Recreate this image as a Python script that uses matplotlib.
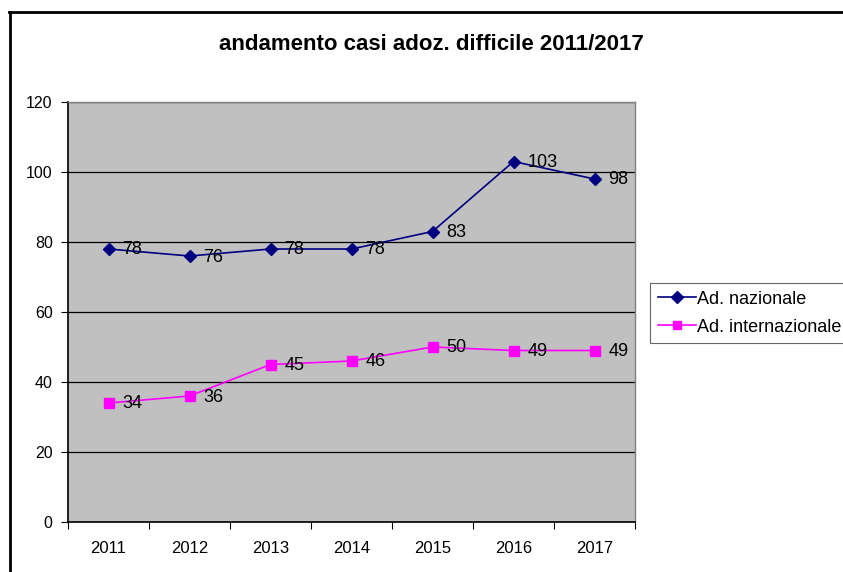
import matplotlib
matplotlib.use("Agg")
import matplotlib.pyplot as plt
from matplotlib.lines import Line2D

plt.rcParams['font.family'] = ['Liberation Sans', 'DejaVu Sans']

years = ["2011", "2012", "2013", "2014", "2015", "2016", "2017"]
nazionale = [78, 76, 78, 78, 83, 103, 98]
internazionale = [34, 36, 45, 46, 50, 49, 49]
series_names = ["Ad. nazionale", "Ad. internazionale"]
yticks = [0, 20, 40, 60, 80, 100, 120]

W, H = 843, 572
fig = plt.figure(figsize=(W / 100, H / 100), dpi=100)
fig.patch.set_facecolor('white')

ax = fig.add_axes([68 / W, 1 - 522 / H, (635 - 68) / W, (522 - 102) / H])
ax.set_facecolor('#C0C0C0')

x = list(range(len(years)))
ax.plot(x, nazionale, color='#000080', lw=1.2, marker='D', ms=6.5,
        mfc='#000080', mec='#000080', label=series_names[0], zorder=3)
ax.plot(x, internazionale, color='#FF00FF', lw=1.2, marker='s', ms=6.5,
        mfc='#FF00FF', mec='#FF00FF', label=series_names[1], zorder=3)

for xi, v in zip(x, nazionale):
    ax.annotate(str(v), (xi, v), xytext=(14, -1), textcoords='offset pixels',
                ha='left', va='center', fontsize=13, color='black', zorder=4)
for xi, v in zip(x, internazionale):
    ax.annotate(str(v), (xi, v), xytext=(14, -1), textcoords='offset pixels',
                ha='left', va='center', fontsize=13, color='black', zorder=4)

ax.set_xlim(-0.5, len(years) - 0.5)
ax.set_ylim(0, 120)
ax.set_yticks(yticks)
ax.set_yticklabels([str(t) for t in yticks], fontsize=11.5)
ax.yaxis.grid(True, color='black', lw=0.9)
ax.set_axisbelow(True)

ax.set_xticks([i + 0.5 for i in range(-1, len(years))])
ax.set_xticklabels([])
ax.set_xticks(x, minor=True)
ax.set_xticklabels(years, minor=True, fontsize=12)
ax.tick_params(axis='x', which='minor', length=0, pad=14)
ax.tick_params(axis='x', which='major', length=5, direction='out', color='black')
ax.tick_params(axis='y', length=5, direction='out', pad=6)

for s in ['left', 'bottom']:
    ax.spines[s].set_color('black')
    ax.spines[s].set_linewidth(1.2)
for s in ['right', 'top']:
    ax.spines[s].set_color('#808080')
    ax.spines[s].set_linewidth(1.0)

fig.text(431 / W, 1 - 44 / H, "andamento casi adoz. difficile 2011/2017",
         ha='center', va='center', fontsize=16, fontweight='bold')

handles = [Line2D([], [], color='#000080', marker='D', ms=6, lw=1.2),
           Line2D([], [], color='#FF00FF', marker='s', ms=6, lw=1.2)]
leg = fig.legend(handles, series_names, loc='upper left',
                 bbox_to_anchor=(650 / W, 1 - 283 / H), fontsize=13,
                 frameon=True, fancybox=False, edgecolor='#404040',
                 handlelength=2.1, handletextpad=0.1, borderpad=0.42,
                 labelspacing=0.62, borderaxespad=0)
leg.get_frame().set_linewidth(0.8)

fig.add_artist(Line2D([10 / W, 10 / W], [0, 1 - 12 / H], color='black', lw=2,
                      transform=fig.transFigure))
fig.add_artist(Line2D([9 / W, 1], [1 - 12 / H, 1 - 12 / H], color='black', lw=2,
                      transform=fig.transFigure))

fig.savefig("out.png", dpi=100)
